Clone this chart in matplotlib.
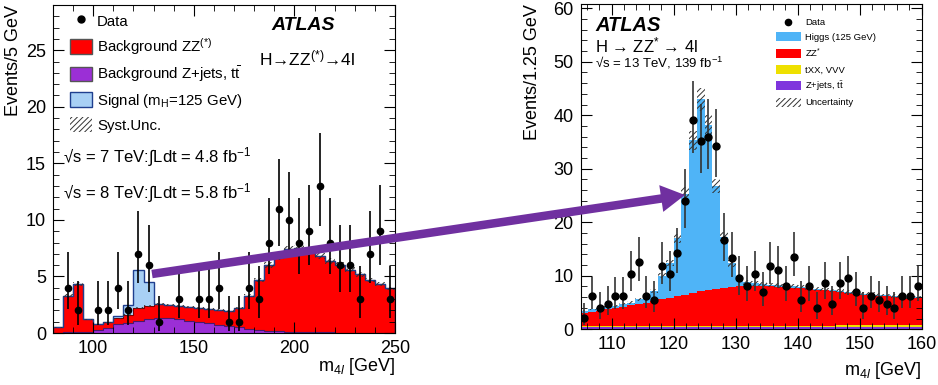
import numpy as np
import matplotlib
matplotlib.use("Agg")
import matplotlib.pyplot as plt
from matplotlib.patches import Patch, FancyArrow
from matplotlib.lines import Line2D
from matplotlib.ticker import MultipleLocator

plt.rcParams['font.family'] = ['Liberation Sans', 'DejaVu Sans']
plt.rcParams['mathtext.fontset'] = 'custom'
plt.rcParams['mathtext.rm'] = 'Liberation Sans'
plt.rcParams['mathtext.it'] = 'Liberation Sans:italic'
plt.rcParams['mathtext.bf'] = 'Liberation Sans:bold'
plt.rcParams['hatch.linewidth'] = 0.7

# ---- left panel: 2012 discovery, 5 GeV bins from 80 to 250 ----
edges_l = np.arange(80, 251, 5)
zjets_l = [0.03, 0.05, 0.08, 0.1, 0.3, 0.45, 0.8, 0.85, 1.05, 1.2, 1.3, 1.3, 1.2, 1.1,
           1.0, 0.9, 0.75, 0.62, 0.5, 0.4, 0.3, 0.22, 0.17, 0.13, 0.1, 0.08, 0.06, 0.05,
           0.04, 0.03, 0.03, 0.02, 0.02, 0.02]
zz_l = [0.47, 3.25, 4.22, 1.1, 0.5, 0.5, 0.5, 0.75, 1.15, 1.2, 1.25, 1.2, 1.2, 1.2,
        1.2, 1.2, 1.25, 1.33, 1.75, 2.9, 4.4, 5.78, 6.53, 7.27, 7.4, 7.22, 6.74, 6.3,
        5.96, 5.57, 5.17, 4.68, 4.33, 3.93]
signal_l = [0, 0, 0, 0, 0, 0.03, 0.2, 0.85, 3.4, 2.1, 0.05, 0, 0, 0,
            0, 0, 0, 0, 0, 0, 0, 0, 0, 0, 0, 0, 0, 0,
            0, 0, 0, 0, 0, 0]
data_l = [0, 4, 2, 0, 2, 2, 4, 2, 7, 6, 1, 0, 3, 0, 3, 3, 4, 1, 1, 4, 3, 8, 11, 10,
          8, 9, 13, 8, 6, 6, 3, 7, 9, 3]
syst_frac_l = 0.04

# 68% Poisson (Garwood) intervals for small counts
poisson_lo = {0: 0.0, 1: 0.173, 2: 0.708, 3: 1.367, 4: 2.086, 5: 2.840, 6: 3.620,
              7: 4.419, 8: 5.232, 9: 6.057, 10: 6.891, 11: 7.734, 12: 8.585, 13: 9.441}
poisson_hi = {0: 1.841, 1: 3.300, 2: 4.638, 3: 5.918, 4: 7.163, 5: 8.382, 6: 9.584,
              7: 10.77, 8: 11.95, 9: 13.11, 10: 14.27, 11: 15.42, 12: 16.56, 13: 17.70}

# ---- right panel: Run 2, 1.25 GeV bins from 105 to 160 ----
edges_r = np.linspace(105, 160, 45)
zjets_r = [0.5, 0.5, 0.5, 0.5, 0.5, 0.5, 0.5, 0.5, 0.5, 0.5, 0.5, 0.5, 0.5, 0.5, 0.5,
           0.5, 0.5, 0.5, 0.5, 0.5, 0.5, 0.5, 0.5, 0.5, 0.5, 0.5, 0.5, 0.5, 0.5, 0.5,
           0.5, 0.5, 0.5, 0.5, 0.5, 0.5, 0.5, 0.5, 0.5, 0.5, 0.5, 0.5, 0.5, 0.5]
txx_r = [0.1, 0.1, 0.1, 0.1, 0.1, 0.1, 0.1, 0.1, 0.1, 0.1, 0.1, 0.15, 0.15, 0.15, 0.15,
         0.15, 0.15, 0.15, 0.15, 0.15, 0.15, 0.15, 0.2, 0.2, 0.2, 0.2, 0.2, 0.2, 0.2, 0.2,
         0.2, 0.2, 0.2, 0.25, 0.25, 0.25, 0.25, 0.25, 0.25, 0.25, 0.25, 0.25, 0.25, 0.25]
zz_r = [2.5, 2.7, 2.9, 3.1, 3.4, 3.6, 3.9, 4.2, 4.4, 4.7, 5.0, 5.25, 5.55, 5.85, 6.15,
        6.45, 6.7, 6.95, 7.15, 7.3, 7.4, 7.45, 7.4, 7.35, 7.3, 7.25, 7.2, 7.1, 7.0, 6.85,
        6.7, 6.55, 6.4, 6.2, 6.05, 5.9, 5.75, 5.65, 5.55, 5.45, 5.35, 5.25, 5.15, 5.05]
higgs_r = [0.4, 0.4, 0.4, 0.4, 0.4, 0.5, 0.5, 0.8, 1.4, 1.9, 4.4, 6.5, 10.8, 18.8, 28.5,
           35.9, 30.85, 19.2, 9.5, 4.35, 1.25, 0.7, 0.5, 0.35, 0.3, 0.25, 0.2, 0.2, 0.15,
           0.15, 0.15, 0.15, 0.15, 0.15, 0.15, 0.15, 0.15, 0.15, 0.15, 0.15, 0.15, 0.15,
           0.15, 0.15]
data_r = [2.2, 6.2, 3.9, 4.7, 6.2, 6.2, 10.3, 12.6, 6.3, 5.5, 11.9, 10.3, 14.2, 23.9,
          39.1, 35.1, 35.9, 34.3, 16.7, 13.4, 9.5, 8.0, 10.3, 7.0, 11.9, 11.1, 8.0, 13.5,
          5.5, 8.0, 3.9, 8.6, 4.7, 8.6, 9.5, 7.0, 3.9, 6.3, 5.5, 4.7, 3.9, 6.3, 6.3, 8.0]
err_lo_r = [1.35, 2.4, 1.9, 2.1, 2.4, 2.4, 3.2, 3.5, 2.4, 2.3, 3.4, 3.2, 3.7, 4.9, 6.2,
            5.9, 6.0, 5.8, 4.0, 3.6, 3.0, 2.8, 3.2, 2.6, 3.4, 3.3, 2.8, 3.6, 2.3, 2.8,
            1.9, 2.9, 2.1, 2.9, 3.0, 2.6, 1.9, 2.4, 2.3, 2.1, 1.9, 2.4, 2.4, 2.8]
err_hi_r = [2.7, 3.6, 3.1, 3.3, 3.6, 3.6, 4.3, 4.6, 3.6, 3.5, 4.5, 4.3, 4.8, 6.0, 7.3,
            7.0, 7.1, 6.9, 5.1, 4.7, 4.2, 3.9, 4.3, 3.8, 4.5, 4.4, 3.9, 4.7, 3.5, 3.9,
            3.1, 4.0, 3.3, 4.0, 4.2, 3.8, 3.1, 3.6, 3.5, 3.3, 3.1, 3.6, 3.6, 3.9]
unc_frac_r = 0.05


fig = plt.figure(figsize=(9.38, 3.85), dpi=100)
ax1 = fig.add_axes([0.0565, 0.135, 0.3646, 0.852])
ax2 = fig.add_axes([0.619, 0.1447, 0.3635, 0.845])

# ---------------- left ----------------
zj = np.array(zjets_l)
bg = zj + np.array(zz_l)
sig = np.array(signal_l)
ax1.stairs(zj, edges_l, fill=True, color='#9b2fd6', lw=0)
ax1.stairs(bg, edges_l, baseline=zj, fill=True, color='#ff0000', lw=0)
ax1.stairs(zj, edges_l, color='#4a1a6a', lw=0.8)
ax1.stairs(bg, edges_l, color='#7a0000', lw=0.8)
m = sig > 0
ax1.stairs(np.where(m, bg + sig, bg), edges_l, baseline=bg, fill=True,
           facecolor='#a8d0f5', edgecolor='none', lw=0)
ax1.stairs(np.where(m, bg + sig, bg), edges_l, color='#1f3f8f', lw=1.0)
ax1.stairs(bg * (1 + syst_frac_l), edges_l, baseline=bg * (1 - syst_frac_l), fill=True,
           facecolor='none', edgecolor='#333333', hatch='//////', lw=0)

d = np.array(data_l)
xc = 0.5 * (edges_l[1:] + edges_l[:-1])
keep = d > 0
lo = np.array([d[i] - poisson_lo[d[i]] for i in range(len(d))])
hi = np.array([poisson_hi[d[i]] - d[i] for i in range(len(d))])
ax1.errorbar(xc[keep], d[keep], yerr=[lo[keep], hi[keep]], fmt='o', color='black',
             ms=4.5, elinewidth=1.2, capsize=0, zorder=5)

ax1.set_xlim(80, 250)
ax1.set_ylim(0, 29)
ax1.xaxis.set_major_locator(MultipleLocator(50))
ax1.xaxis.set_minor_locator(MultipleLocator(10))
ax1.yaxis.set_major_locator(MultipleLocator(5))
ax1.yaxis.set_minor_locator(MultipleLocator(1))
ax1.set_ylabel('Events/5 GeV', fontsize=13, loc='top', labelpad=3)
ax1.set_xlabel('m$_{4l}$ [GeV]', fontsize=13, loc='right', labelpad=-1)

handles_l = [Line2D([], [], marker='o', color='black', ls='none', ms=5),
             Patch(facecolor='#ff0000', edgecolor='#555555'),
             Patch(facecolor='#9b2fd6', edgecolor='#555555'),
             Patch(facecolor='#a8d0f5', edgecolor='#1f3f8f'),
             Patch(facecolor='none', edgecolor='#333333', hatch='//////', lw=0)]
labels_l = ['Data', 'Background ZZ$^{(*)}$',
            'Background Z+jets, $\\mathrm{t}\\bar{\\mathrm{t}}$',
            'Signal (m$_{\\mathrm{H}}$=125 GeV)', 'Syst.Unc.']
ax1.legend(handles_l, labels_l, loc='upper left', bbox_to_anchor=(0.05, 0.975),
           frameon=False, fontsize=10.8, handlelength=1.45, handleheight=1.1,
           handletextpad=0.35, labelspacing=0.5, borderpad=0, borderaxespad=0)

ax1.text(0.731, 0.939, 'ATLAS', transform=ax1.transAxes, fontsize=14,
         fontweight='bold', style='italic', ha='center', va='center')
ax1.text(0.743, 0.838, 'H→ZZ$^{(*)}$→4l', transform=ax1.transAxes, fontsize=12.5,
         ha='center', va='center')
ax1.text(0.029, 0.537, '√s = 7 TeV:$\\int$Ldt = 4.8 fb$^{-1}$', transform=ax1.transAxes,
         fontsize=12, ha='left', va='center')
ax1.text(0.029, 0.427, '√s = 8 TeV:$\\int$Ldt = 5.8 fb$^{-1}$', transform=ax1.transAxes,
         fontsize=12, ha='left', va='center')

# ---------------- right ----------------
s1 = np.array(zjets_r)
s2 = s1 + np.array(txx_r)
s3 = s2 + np.array(zz_r)
s4 = s3 + np.array(higgs_r)
ax2.stairs(s1, edges_r, fill=True, color='#7f35dd', lw=0)
ax2.stairs(s2, edges_r, baseline=s1, fill=True, color='#eee000', lw=0)
ax2.stairs(s3, edges_r, baseline=s2, fill=True, color='#ff0000', lw=0)
ax2.stairs(s4, edges_r, baseline=s3, fill=True, color='#4fb4f7', lw=0)
ax2.stairs(s4 * (1 + unc_frac_r), edges_r, baseline=s4 * (1 - unc_frac_r), fill=True,
           facecolor='none', edgecolor='#333333', hatch='//////', lw=0)

xr = 0.5 * (edges_r[1:] + edges_r[:-1])
ax2.errorbar(xr, data_r, yerr=[err_lo_r, err_hi_r], fmt='o', color='black',
             ms=5, elinewidth=1.2, ecolor='#333333', capsize=0, zorder=5)

ax2.set_xlim(105, 160)
ax2.set_ylim(0, 60.8)
ax2.xaxis.set_major_locator(MultipleLocator(10))
ax2.xaxis.set_minor_locator(MultipleLocator(2))
ax2.yaxis.set_major_locator(MultipleLocator(10))
ax2.yaxis.set_minor_locator(MultipleLocator(2))
ax2.set_ylabel('Events/1.25 GeV', fontsize=13, loc='top', labelpad=9)
ax2.set_xlabel('m$_{4l}$ [GeV]', fontsize=13, loc='right', labelpad=5)

handles_r = [Line2D([], [], marker='o', color='black', ls='none', ms=4.5),
             Patch(facecolor='#4fb4f7', edgecolor='none'),
             Patch(facecolor='#ff0000', edgecolor='none'),
             Patch(facecolor='#eee000', edgecolor='none'),
             Patch(facecolor='#7f35dd', edgecolor='none'),
             Patch(facecolor='none', edgecolor='#333333', hatch='//////', lw=0)]
labels_r = ['Data', 'Higgs (125 GeV)', 'ZZ$^{*}$', 'tXX, VVV',
            'Z+jets, $\\mathrm{t}\\bar{\\mathrm{t}}$', 'Uncertainty']
ax2.legend(handles_r, labels_r, loc='upper left', bbox_to_anchor=(0.573, 0.958),
           frameon=False, fontsize=6.8, handlelength=2.6, handleheight=1.1,
           handletextpad=0.5, labelspacing=0.5, borderpad=0, borderaxespad=0)

ax2.text(0.042, 0.935, 'ATLAS', transform=ax2.transAxes, fontsize=14.5,
         fontweight='bold', style='italic', ha='left', va='center')
ax2.text(0.042, 0.874, 'H → ZZ$^{*}$ → 4l', transform=ax2.transAxes, fontsize=12,
         ha='left', va='center')
ax2.text(0.042, 0.818, '√s = 13 TeV, 139 fb$^{-1}$', transform=ax2.transAxes,
         fontsize=9.5, ha='left', va='center')

for ax in (ax1, ax2):
    ax.tick_params(which='both', direction='in', top=True, right=True, labelsize=13)
    ax.tick_params(which='major', length=8, pad=5)
    ax.tick_params(which='minor', length=4)
    for sp in ax.spines.values():
        sp.set_linewidth(0.8)

# purple arrow linking the two excesses
arrow = FancyArrow(1.52, 1.11, 5.33, 0.79, width=0.085, head_width=0.27,
                   head_length=0.24, length_includes_head=True,
                   transform=fig.dpi_scale_trans, color='#7030a0', lw=0, zorder=10)
fig.add_artist(arrow)

fig.savefig('out.png', dpi=100)
